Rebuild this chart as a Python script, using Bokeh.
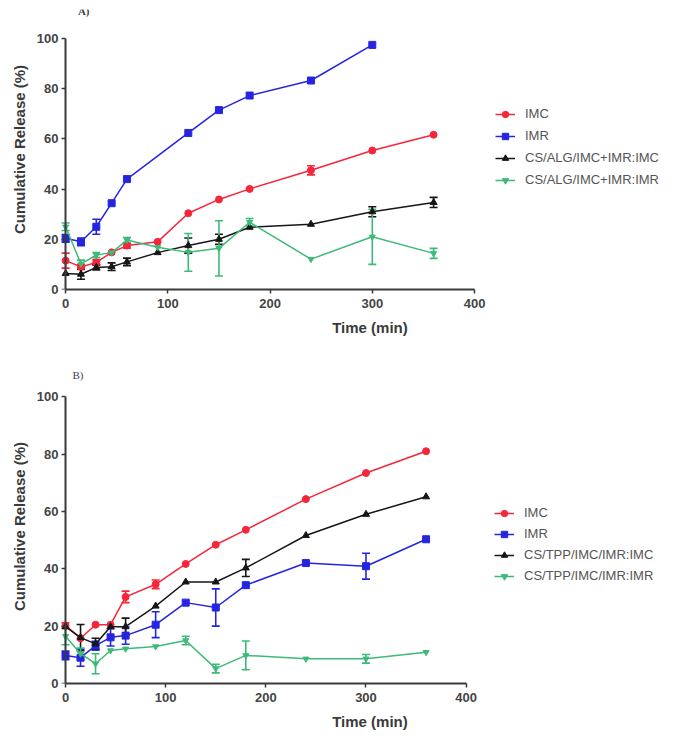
from bokeh.plotting import figure
from bokeh.models import (ColumnDataSource, Whisker, TeeHead, Legend, LegendItem,
                          Label, FixedTicker, Range1d, LinearAxis)
from bokeh.layouts import column
from bokeh.embed import file_html
from bokeh.resources import INLINE

# ---------------- data ----------------
time = [0, 15, 30, 45, 60, 90, 120, 150, 180, 240, 300, 360]
time_imr_a = [0, 15, 30, 45, 60, 120, 150, 180, 240, 300]

# Panel A
a_imc = [11.5, 9.0, 10.8, 14.8, 17.5, 19.0, 30.4, 35.9, 40.1, 47.5, 55.4, 61.7]
a_imc_err = [3.0, 1.0, 1.0, 0, 1.0, 0, 0, 0, 0, 1.8, 0, 0]
a_imr = [20.4, 19.0, 25.0, 34.4, 44.0, 62.4, 71.5, 77.3, 83.3, 97.5]
a_imr_err = [1.5, 1.5, 3.0, 0, 0, 0, 0, 0, 0, 0]
a_cs_imc = [6.4, 6.1, 8.8, 9.1, 11.0, 14.7, 17.5, 20.0, 24.8, 26.0, 31.0, 34.7]
a_cs_imc_err = [0, 2.0, 1.0, 1.5, 1.5, 0, 3.0, 2.0, 0, 0, 2.0, 2.0]
a_cs_imr = [25.0, 10.2, 13.7, 14.7, 19.7, 16.8, 14.8, 16.4, 26.8, 12.1, 21.0, 14.4]
a_cs_imr_err = [1.5, 1.5, 1.0, 0, 1.0, 0, 7.5, 11.0, 1.5, 0, 11.0, 2.0]

# Panel B
b_imc = [20.2, 15.8, 20.5, 20.5, 30.2, 34.6, 41.7, 48.4, 53.6, 64.3, 73.4, 81.0]
b_imc_err = [1.0, 0, 0, 0, 2.0, 1.5, 0, 0, 0, 0, 0, 0]
b_imr = [9.8, 9.0, 13.2, 16.1, 16.7, 20.5, 28.2, 26.5, 34.3, 42.0, 40.9, 50.3]
b_imr_err = [1.5, 3.0, 1.5, 3.0, 3.0, 4.5, 0, 6.5, 0, 0, 4.5, 0]
b_cs_imc = [19.8, 16.0, 13.8, 19.8, 19.8, 27.0, 35.4, 35.4, 40.3, 51.6, 59.0, 65.1]
b_cs_imc_err = [0, 4.6, 2.0, 0, 3.0, 0, 0, 0, 3.0, 0, 0, 0]
b_cs_imr = [16.5, 10.4, 6.9, 11.5, 12.1, 12.9, 15.0, 5.2, 9.8, 8.6, 8.6, 10.9]
b_cs_imr_err = [3.0, 2.0, 3.5, 0, 0, 0, 1.5, 1.5, 5.0, 0, 1.5, 0]

labels_a = ["IMC", "IMR", "CS/ALG/IMC+IMR:IMC", "CS/ALG/IMC+IMR:IMR"]
labels_b = ["IMC", "IMR", "CS/TPP/IMC/IMR:IMC", "CS/TPP/IMC/IMR:IMR"]

x_ticks = [0, 100, 200, 300, 400]
y_ticks = [0, 20, 40, 60, 80, 100]

# ---------------- styles ----------------
RED, BLUE, BLACK, GREEN = "#f5263a", "#2525e0", "#161616", "#3dba78"
styles = [
    dict(color=RED, marker="circle", size=7),
    dict(color=BLUE, marker="square", size=7),
    dict(color=BLACK, marker="triangle", size=7),
    dict(color=GREEN, marker="inverted_triangle", size=6),
]
FONT = "Liberation Sans"
AX = "#3a3a3a"


def make_panel(series, labels, tag, tag_xy, tag_style, height, min_top, min_bottom,
               x_end, y_end, leg_loc, leg_spacing):
    p = figure(width=690, height=height, output_backend="svg", toolbar_location=None,
               x_range=Range1d(-6, x_end), y_range=Range1d(0, y_end),
               min_border_left=59, min_border_right=10,
               min_border_top=min_top, min_border_bottom=min_bottom)
    p.outline_line_color = None
    p.grid.visible = False

    items = []
    for (xs, ys, errs), st, lab in zip(series, styles, labels):
        src = ColumnDataSource(dict(x=xs, y=ys))
        ln = p.line("x", "y", source=src, line_color=st["color"], line_width=1.5)
        sc = p.scatter("x", "y", source=src, marker=st["marker"], size=st["size"],
                       fill_color=st["color"], line_color=st["color"])
        ex = [x for x, e in zip(xs, errs) if e > 0]
        lo = [y - e for y, e in zip(ys, errs) if e > 0]
        hi = [y + e for y, e in zip(ys, errs) if e > 0]
        if ex:
            wsrc = ColumnDataSource(dict(x=ex, lower=lo, upper=hi))
            w = Whisker(source=wsrc, base="x", lower="lower", upper="upper",
                        line_color=st["color"], line_width=1.6,
                        upper_head=TeeHead(size=8, line_color=st["color"], line_width=1.6),
                        lower_head=TeeHead(size=8, line_color=st["color"], line_width=1.6))
            p.add_layout(w)
        items.append(LegendItem(label=lab, renderers=[ln, sc]))

    leg = Legend(items=items, location=leg_loc, padding=0, margin=0,
                 border_line_color=None, background_fill_alpha=0,
                 label_text_font=FONT, label_text_font_size="13px",
                 label_text_color="#555555", glyph_width=20, glyph_height=16,
                 label_height=16, label_standoff=10, spacing=leg_spacing)
    p.add_layout(leg)

    # x axis
    xa = p.xaxis[0]
    xa.ticker = FixedTicker(ticks=x_ticks)
    xa.bounds = (0, 400)
    xa.axis_line_color = AX
    xa.axis_line_width = 2
    xa.major_tick_line_color = AX
    xa.major_tick_line_width = 1.5
    xa.major_tick_out = 4
    xa.major_tick_in = 0
    xa.minor_tick_line_color = None
    xa.major_label_standoff = 5
    xa.axis_label = "Time (min)"
    xa.axis_label_standoff = 8

    # y axis labels (at frame left, line/ticks hidden)
    ya = p.yaxis[0]
    ya.ticker = FixedTicker(ticks=y_ticks)
    ya.bounds = (0, 100)
    ya.axis_line_color = None
    ya.major_tick_line_color = None
    ya.minor_tick_line_color = None
    ya.major_tick_out = 0
    ya.major_tick_in = 0
    ya.major_label_standoff = 1
    ya.axis_label = "Cumulative Release (%)"
    ya.axis_label_standoff = 6

    for ax in (xa, ya):
        ax.major_label_text_font = FONT
        ax.major_label_text_font_size = "13px"
        ax.major_label_text_font_style = "bold"
        ax.major_label_text_color = "#444444"
        ax.axis_label_text_font = FONT
        ax.axis_label_text_font_size = "15px"
        ax.axis_label_text_font_style = "bold"
        ax.axis_label_text_color = "#3a3a3a"

    # y axis line and ticks placed exactly at x = 0
    yl = LinearAxis(ticker=FixedTicker(ticks=y_ticks), bounds=(0, 100),
                    fixed_location=0, axis_line_color=AX, axis_line_width=2,
                    major_tick_line_color=AX, major_tick_line_width=1.5,
                    major_tick_in=4, major_tick_out=0, minor_tick_line_color=None,
                    major_label_text_font_size="0px", major_label_text_alpha=0)
    p.add_layout(yl, "right")

    p.add_layout(Label(x=tag_xy[0], y=tag_xy[1], text=tag,
                       text_font="Liberation Serif", text_font_size="11px",
                       text_font_style=tag_style, text_color="#444444"))
    return p


series_a = [(time, a_imc, a_imc_err), (time_imr_a, a_imr, a_imr_err),
            (time, a_cs_imc, a_cs_imc_err), (time, a_cs_imr, a_cs_imr_err)]
series_b = [(time, b_imc, b_imc_err), (time, b_imr, b_imr_err),
            (time, b_cs_imc, b_cs_imc_err), (time, b_cs_imr, b_cs_imr_err)]

pA = make_panel(series_a, labels_a, "A)", (12, 108.7), "bold", height=367, min_top=9,
                min_bottom=78, x_end=601.5, y_end=111.6, leg_loc=(436, 101.5),
                leg_spacing=6)
pB = make_panel(series_b, labels_b, "B)", (7, 105.5), "normal", height=365, min_top=2,
                min_bottom=46, x_end=614, y_end=109.5, leg_loc=(435, 99.5),
                leg_spacing=5)

layout = column(pA, pB, spacing=0)
open("out.html", "w").write(file_html(layout, INLINE))
